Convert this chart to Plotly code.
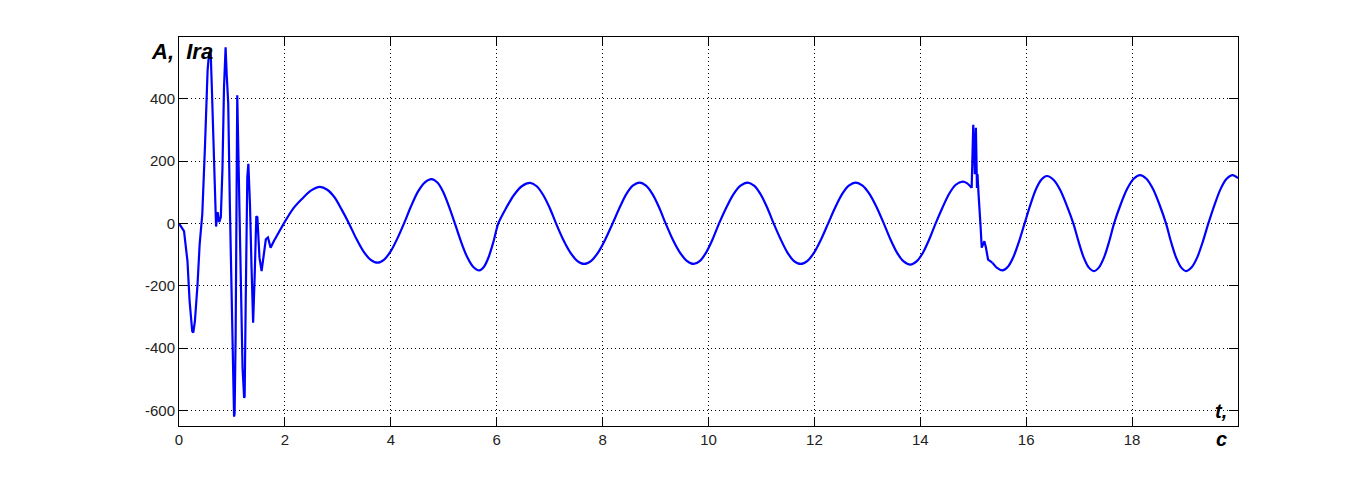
import plotly.graph_objects as go

# ---- data (time in s, amplitude) ----
t_start = [0, 0.095, 0.16, 0.2, 0.25, 0.27, 0.30, 0.35, 0.39, 0.44, 0.49, 0.54, 0.57, 0.60,
           0.62, 0.66, 0.69, 0.70, 0.73, 0.76, 0.79, 0.82, 0.85, 0.88, 0.90, 0.91, 0.93,
           0.96, 0.98, 1.01, 1.04, 1.05, 1.07, 1.10, 1.13, 1.17, 1.20, 1.23, 1.24, 1.26,
           1.29, 1.31, 1.34, 1.37, 1.40, 1.43, 1.46, 1.48, 1.52, 1.56, 1.61, 1.64, 1.68,
           1.73, 1.79, 1.86, 1.98]
a_start = [0, -25, -121, -249, -346, -350, -314, -196, -67, 30, 245, 491, 550, 540,
           437, 170, 43, -10, 36, 4, 20, 171, 437, 565, 480, 437, 384,
           63, -142, -356, -620, -610, -356, 411, 171, -250, -463, -560, -555, -250,
           149, 191, 63, -142, -319, -164, 23, 20, -110, -153, -89, -51, -45,
           -78, -57, -35, 0]

t_osc1 = [1.98, 2.15, 2.32, 2.49, 2.66, 2.80, 2.94, 3.07, 3.21, 3.345, 3.48, 3.615, 3.75,
          3.875, 4.00, 4.125, 4.25, 4.38, 4.51, 4.64, 4.77, 4.88, 4.99, 5.10, 5.21,
          5.325, 5.44, 5.555, 5.67, 5.76, 5.85, 5.94, 6.03, 6.18, 6.33, 6.48, 6.63,
          6.75, 6.875, 7.0, 7.12, 7.25, 7.385, 7.52, 7.65, 7.785, 7.92, 8.055, 8.19,
          8.32, 8.445, 8.57, 8.70, 8.82, 8.945, 9.07, 9.19, 9.32, 9.455, 9.59, 9.72,
          9.84, 9.96, 10.08, 10.2, 10.335, 10.47, 10.605, 10.74, 10.86, 10.985, 11.11, 11.23,
          11.36, 11.485, 11.61, 11.74, 11.87, 12.0, 12.13, 12.26, 12.39, 12.52, 12.65, 12.78,
          12.91, 13.045, 13.18, 13.31, 13.435, 13.56, 13.685, 13.81, 13.93, 14.05, 14.17,
          14.29, 14.42, 14.545, 14.67, 14.80, 14.88, 14.97]
a_osc1 = [0, 46, 78, 105, 117, 108, 83, 45, 0, -48, -89, -116, -126,
          -116, -89, -48, 0, 54, 101, 131, 142, 131, 101, 54, 0,
          -58, -107, -139, -151, -139, -107, -58, 0, 50, 92, 120, 130,
          120, 92, 50, 0, -50, -92, -120, -130, -120, -92, -50, 0,
          50, 93, 121, 131, 121, 93, 50, 0, -50, -92, -120, -130,
          -120, -92, -50, 0, 50, 93, 121, 131, 121, 93, 50, 0,
          -50, -92, -120, -130, -120, -92, -50, 0, 50, 93, 121, 131,
          121, 93, 50, 0, -51, -94, -122, -132, -122, -94, -51,
          0, 51, 95, 124, 134, 129, 114]

t_fault = [14.97, 14.98, 15.00, 15.03, 15.05, 15.07, 15.08, 15.10, 15.12, 15.14, 15.16,
           15.21, 15.24, 15.28, 15.36]
a_fault = [114, 216, 316, 158, 307, 114, 158, 94, 50, -14, -78,
           -57, -78, -116, -126]

t_osc2 = [15.36, 15.45, 15.55, 15.655, 15.76, 15.865, 15.97, 16.075, 16.18, 16.285, 16.39,
          16.515, 16.64, 16.765, 16.89, 16.99, 17.085, 17.18, 17.28, 17.375, 17.47, 17.565,
          17.66, 17.78, 17.905, 18.03, 18.15, 18.27, 18.395, 18.52, 18.64, 18.735, 18.83,
          18.925, 19.02, 19.125, 19.23, 19.335, 19.44, 19.555, 19.67, 19.785, 19.9, 20.0]
a_osc2 = [-126, -143, -151, -139, -107, -58, 0, 58, 108, 140, 152,
          140, 108, 58, 0, -59, -109, -141, -153, -141, -109, -59,
          0, 59, 110, 143, 155, 143, 110, 59, 0, -59, -109,
          -141, -153, -141, -109, -59, 0, 59, 110, 143, 155, 145]

x_ticks = [0, 2, 4, 6, 8, 10, 12, 14, 16, 18]
y_ticks = [-600, -400, -200, 0, 200, 400]

LINE = dict(color="#0000ff", width=2.2)

fig = go.Figure()
fig.add_trace(go.Scatter(x=t_start, y=a_start, mode="lines", line=dict(**LINE, shape="linear")))
fig.add_trace(go.Scatter(x=t_osc1, y=a_osc1, mode="lines", line=dict(**LINE, shape="spline", smoothing=0.8)))
fig.add_trace(go.Scatter(x=t_fault, y=a_fault, mode="lines", line=dict(**LINE, shape="linear")))
fig.add_trace(go.Scatter(x=t_osc2, y=a_osc2, mode="lines", line=dict(**LINE, shape="spline", smoothing=0.8)))

axis_common = dict(
    showline=True, linecolor="black", linewidth=1, mirror="ticks",
    ticks="inside", ticklen=9, tickcolor="black", tickwidth=1,
    showgrid=True, gridcolor="black", gridwidth=1, griddash="1px,3px",
    zeroline=False,
    tickfont=dict(family="Liberation Sans, Arial, sans-serif", size=15, color="#222222"),
)

fig.update_xaxes(range=[0, 20], tickvals=x_ticks, ticktext=[str(v) for v in x_ticks], **axis_common)
fig.update_yaxes(range=[-650, 598], tickvals=y_ticks, ticktext=[str(v) for v in y_ticks], **axis_common)

fig.add_annotation(xref="paper", yref="paper", x=-0.028, y=1.0, xanchor="left", yanchor="top",
                   text="<b><i>A,  Ira</i></b>", showarrow=False,
                   font=dict(family="Liberation Sans, Arial, sans-serif", size=22, color="black"))
fig.add_annotation(xref="paper", yref="paper", x=0.984, y=0.005, xanchor="center", yanchor="bottom",
                   text="<b><i>t,</i></b>", showarrow=False,
                   font=dict(family="Liberation Sans, Arial, sans-serif", size=20, color="black"))
fig.add_annotation(xref="paper", yref="paper", x=0.984, y=0.0, xanchor="center", yanchor="top",
                   text="<b><i>c</i></b>", showarrow=False,
                   font=dict(family="Liberation Sans, Arial, sans-serif", size=20, color="black"))

fig.update_layout(
    width=1360, height=471,
    margin=dict(l=171, r=130, t=29, b=53),
    paper_bgcolor="white", plot_bgcolor="white",
    showlegend=False,
)

fig.write_html("out.html")
